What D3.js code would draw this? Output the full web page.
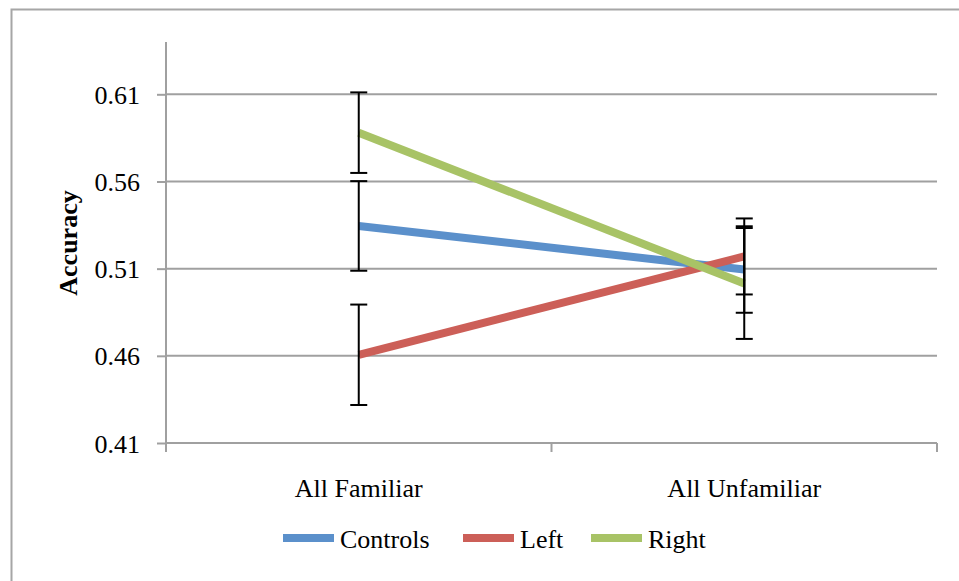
<!DOCTYPE html>
<html><head><meta charset="utf-8">
<script src="https://cdn.jsdelivr.net/npm/d3@7"></script>
<style>body{margin:0;background:#fff}svg{display:block}text{font-family:"Liberation Serif","Times New Roman",serif;fill:#000}</style>
</head><body>
<svg id="c" width="959" height="581"></svg>
<script>
const categories = ["All Familiar", "All Unfamiliar"];
const seriesNames = ["Controls", "Left", "Right"];
const controlsValues = [0.5345, 0.5095];
const leftValues = [0.4606, 0.5170];
const rightValues = [0.5880, 0.5015];
const controlsErrors = [0.0257, 0.0248];
const leftErrors = [0.0288, 0.0218];
const rightErrors = [0.0231, 0.0318];
const yTicks = [0.41, 0.46, 0.51, 0.56, 0.61];
const colors = ["#5B90CB", "#CC5F58", "#A8C366"];

const series = [
  {name: seriesNames[0], values: controlsValues, errors: controlsErrors, color: colors[0]},
  {name: seriesNames[1], values: leftValues, errors: leftErrors, color: colors[1]},
  {name: seriesNames[2], values: rightValues, errors: rightErrors, color: colors[2]}
];

const svg = d3.select("#c");
const L = 166, R = 937, T = 42, B = 443;

// outer border (left + top visible)
svg.append("rect").attr("x", 11.5).attr("y", 9.5).attr("width", 1000).attr("height", 700)
  .attr("fill", "none").attr("stroke", "#a6a6a6").attr("stroke-width", 2);

const y = d3.scaleLinear().domain([0.41, 0.64]).range([B, T]);
const x = d3.scaleBand().domain(categories).range([L, R]).paddingInner(0).paddingOuter(0);
const cx = c => x(c) + x.bandwidth() / 2;

// gridlines
svg.append("g").selectAll("line").data(yTicks.filter(t => t > 0.41)).join("line")
  .attr("x1", L).attr("x2", R).attr("y1", d => y(d)).attr("y2", d => y(d))
  .attr("stroke", "#a0a0a0").attr("stroke-width", 2);

// y axis
const yAxis = svg.append("g").attr("transform", `translate(${L},0)`)
  .call(d3.axisLeft(y).tickValues(yTicks).tickSize(9).tickPadding(17).tickFormat(d3.format(".2f")));
yAxis.select(".domain").attr("stroke", "#a0a0a0").attr("stroke-width", 2).attr("d", `M0,${T}V${B}`);
yAxis.selectAll(".tick line").attr("stroke", "#a0a0a0").attr("stroke-width", 2);
yAxis.selectAll(".tick text").attr("font-size", 26).attr("font-family", "Liberation Serif").attr("fill", "#000").attr("dy", "0.35em");

// x axis
const xAxis = svg.append("g").attr("transform", `translate(0,${B})`)
  .call(d3.axisBottom(x).tickSize(0).tickPadding(0));
xAxis.select(".domain").attr("stroke", "#a0a0a0").attr("stroke-width", 2).attr("d", `M${L},0H${R}`);
xAxis.selectAll(".tick text").attr("font-size", 26).attr("font-family", "Liberation Serif").attr("fill", "#000")
  .attr("y", 54).attr("dy", 0);
xAxis.selectAll(".sep").data([L, L + x.bandwidth(), R]).join("line").attr("class", "sep")
  .attr("x1", d => d).attr("x2", d => d).attr("y1", 0).attr("y2", 9)
  .attr("stroke", "#a0a0a0").attr("stroke-width", 2);

// axis title
svg.append("text").attr("transform", "translate(77,243) rotate(-90)").attr("text-anchor", "middle")
  .attr("font-size", 26).attr("font-weight", "bold").text("Accuracy");

// lines
const line = d3.line().x((d, i) => cx(categories[i])).y(d => y(d));
svg.append("g").selectAll("path").data(series).join("path")
  .attr("d", d => line(d.values)).attr("fill", "none").attr("stroke", d => d.color).attr("stroke-width", 8);

// error bars
const eb = svg.append("g").attr("stroke", "#000").attr("stroke-width", 2);
series.forEach(s => {
  s.values.forEach((v, i) => {
    const px = cx(categories[i]);
    const lo = y(v - s.errors[i]), hi = y(v + s.errors[i]);
    eb.append("line").attr("x1", px).attr("x2", px).attr("y1", lo).attr("y2", hi);
    eb.append("line").attr("x1", px - 8.5).attr("x2", px + 8.5).attr("y1", lo).attr("y2", lo);
    eb.append("line").attr("x1", px - 8.5).attr("x2", px + 8.5).attr("y1", hi).attr("y2", hi);
  });
});

// legend
const legX = [283, 463, 591];
const lg = svg.append("g").selectAll("g").data(series).join("g")
  .attr("transform", (d, i) => `translate(${legX[i]},538)`);
lg.append("line").attr("x1", 0).attr("x2", 51).attr("y1", 0).attr("y2", 0)
  .attr("stroke", d => d.color).attr("stroke-width", 8);
lg.append("text").attr("x", 57).attr("y", 10).attr("font-size", 26).text(d => d.name);
</script>
</body></html>
